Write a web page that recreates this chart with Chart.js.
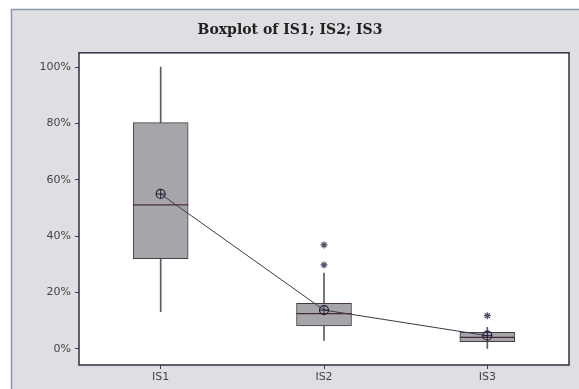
<!DOCTYPE html>
<html>
<head>
<meta charset="utf-8">
<script src="https://cdn.jsdelivr.net/npm/chart.js@4.4.0/dist/chart.umd.min.js"></script>
<style>
  html, body { margin: 0; padding: 0; background: #fff; }
  #wrap { width: 579px; height: 389px; }
</style>
</head>
<body>
<div id="wrap"><canvas id="boxChart" width="579" height="389"></canvas></div>
<script>
// --- data (in %) ---
const categories = ["IS1", "IS2", "IS3"];
const whiskerLow = [13.2, 3.0, 0.0];
const q1 = [32.0, 8.2, 2.6];
const median = [51.1, 12.5, 4.1];
const q3 = [80.3, 16.2, 5.9];
const whiskerHigh = [100.0, 26.9, 7.7];
const mean = [55.0, 13.8, 4.7];
const outlierCat = ["IS2", "IS2", "IS3"];
const outlierVal = [36.9, 29.8, 11.8];
const yTicks = [0, 20, 40, 60, 80, 100];

const darkLine = "#3a3a48";
const boxFill = "#a6a6aa";

// frame + white plot area behind, plot border on top
const framePlugin = {
  id: "frame",
  beforeDraw(chart) {
    const {ctx, chartArea: a} = chart;
    ctx.save();
    ctx.fillStyle = "#ffffff";
    ctx.fillRect(0, 0, chart.width, chart.height);
    ctx.fillStyle = "#dfdfe3";
    ctx.fillRect(11, 9, chart.width - 11, chart.height - 9);
    ctx.strokeStyle = "#8a96a4";
    ctx.lineWidth = 1.5;
    ctx.beginPath();
    ctx.moveTo(11.5, chart.height);
    ctx.lineTo(11.5, 9.5);
    ctx.lineTo(chart.width, 9.5);
    ctx.stroke();
    ctx.fillStyle = "#ffffff";
    ctx.fillRect(a.left, a.top, a.right - a.left, a.bottom - a.top);
    ctx.restore();
  },
  afterDraw(chart) {
    const {ctx, chartArea: a} = chart;
    ctx.save();
    ctx.strokeStyle = "#2e2e40";
    ctx.lineWidth = 1.5;
    ctx.strokeRect(a.left, a.top, a.right - a.left, a.bottom - a.top);
    ctx.restore();
  }
};

new Chart(document.getElementById("boxChart"), {
  type: "bar",
  data: {
    labels: categories,
    datasets: [
      {
        label: "whisker",
        data: categories.map((c, i) => [whiskerLow[i], whiskerHigh[i]]),
        backgroundColor: "#5a5a68",
        barThickness: 1,
        grouped: false,
        order: 5
      },
      {
        label: "box",
        data: categories.map((c, i) => [q1[i], q3[i]]),
        backgroundColor: boxFill,
        borderColor: "#4a3a44",
        borderWidth: 1,
        borderSkipped: false,
        barThickness: 55,
        grouped: false,
        order: 4
      },
      {
        type: "line",
        label: "median",
        data: median,
        showLine: false,
        pointStyle: "line",
        pointRadius: 27.5,
        pointBorderWidth: 1.2,
        pointBorderColor: "#4a2a3a",
        order: 3
      },
      {
        type: "line",
        label: "mean",
        data: mean,
        borderColor: darkLine,
        borderWidth: 1,
        pointStyle: "circle",
        pointRadius: 4.5,
        pointBorderWidth: 1.2,
        pointBorderColor: "#202038",
        pointBackgroundColor: "rgba(0,0,0,0)",
        order: 2
      },
      {
        type: "line",
        label: "mean cross",
        data: mean,
        showLine: false,
        pointStyle: "cross",
        pointRadius: 4.5,
        pointBorderWidth: 1,
        pointBorderColor: "#202038",
        order: 1
      },
      {
        type: "line",
        label: "outliers",
        data: outlierCat.map((c, i) => ({x: c, y: outlierVal[i]})),
        showLine: false,
        pointStyle: "star",
        pointRadius: 3.5,
        pointBorderWidth: 1.2,
        pointBorderColor: "#50506a",
        order: 0
      }
    ]
  },
  options: {
    responsive: false,
    animation: false,
    events: [],
    layout: { autoPadding: false, padding: { left: 11, right: 10, top: 0, bottom: 0 } },
    plugins: {
      legend: { display: false },
      tooltip: { enabled: false },
      title: {
        display: true,
        text: "Boxplot of IS1; IS2; IS3",
        color: "#222",
        font: { family: "DejaVu Serif", size: 14, weight: "bold" },
        padding: { top: 22, bottom: 14 }
      }
    },
    scales: {
      x: {
        offset: true,
        grid: { display: true, offset: false, drawOnChartArea: false, drawTicks: true, tickLength: 4, color: darkLine },
        border: { display: false },
        ticks: { color: "#444", font: { family: "DejaVu Sans", size: 11 }, padding: 2 },
        afterFit(s) { s.height = 24; }
      },
      y: {
        min: -5.7,
        max: 105.1,
        afterBuildTicks(s) { s.ticks = yTicks.map(v => ({value: v})); },
        grid: { display: true, drawOnChartArea: false, drawTicks: true, tickLength: 4, color: darkLine },
        border: { display: false },
        ticks: {
          color: "#444",
          font: { family: "DejaVu Sans", size: 11 },
          padding: 4,
          callback: v => v + "%"
        },
        afterFit(s) { s.width = 68; }
      }
    }
  },
  plugins: [framePlugin]
});
</script>
</body>
</html>
